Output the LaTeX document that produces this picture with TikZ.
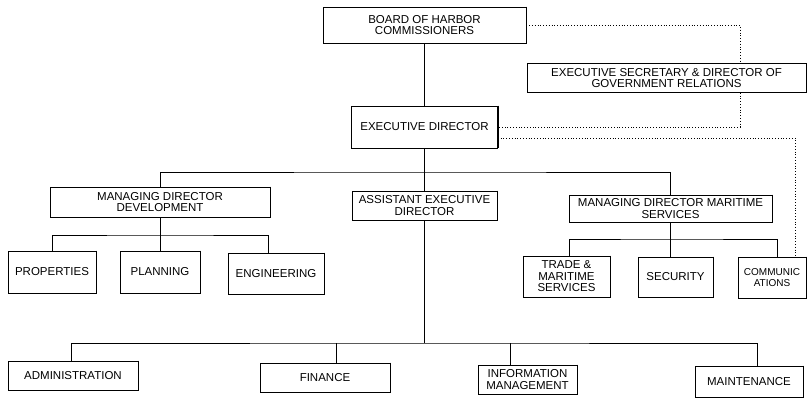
\documentclass[tikz,border=0pt]{standalone}
\usepackage{fontspec}
\setmainfont{Liberation Sans}
\tikzset{unit/.style={draw, line width=0.6pt, fill=white, align=center, inner sep=1pt, font=\fontsize{11.5}{11.5}\selectfont},
	link/.style={line width=0.8pt},
	staff/.style={dotted, line width=0.8pt}}
\begin{document}
\begin{tikzpicture}[x=1pt,y=-1pt]
\useasboundingbox (0,0) rectangle (808,399);
\node[unit, minimum width=203pt, minimum height=36pt] (board) at (424.5,25) {BOARD OF HARBOR\\COMMISSIONERS};
\node[unit, minimum width=279pt, minimum height=29pt] (secr) at (666.5,78) {EXECUTIVE SECRETARY \& DIRECTOR OF\\GOVERNMENT RELATIONS};
\node[unit, minimum width=146pt, minimum height=42pt] (exdir) at (424.5,127) {EXECUTIVE DIRECTOR};
\node[unit, minimum width=220pt, minimum height=30pt] (mddev) at (160,202) {MANAGING DIRECTOR\\DEVELOPMENT};
\node[unit, minimum width=145pt, minimum height=29pt] (aed) at (424.5,205.5) {ASSISTANT EXECUTIVE\\DIRECTOR};
\node[unit, minimum width=203pt, minimum height=27pt] (mdmar) at (670.5,208.5) {MANAGING DIRECTOR MARITIME\\SERVICES};
\node[unit, minimum width=88pt, minimum height=42pt] (prop) at (52,272) {PROPERTIES};
\node[unit, minimum width=80pt, minimum height=42pt] (plan) at (160,272) {PLANNING};
\node[unit, minimum width=96pt, minimum height=41pt] (eng) at (276,273.5) {ENGINEERING};
\node[unit, minimum width=87pt, minimum height=41pt] (trade) at (566.5,276.5) {TRADE \&\\MARITIME\\SERVICES};
\node[unit, minimum width=75pt, minimum height=40pt] (secu) at (675.5,277) {SECURITY};
\node[unit, minimum width=68pt, minimum height=41pt, font=\fontsize{10}{11}\selectfont] (comm) at (772,277.5) {COMMUNIC\\ATIONS};
\node[unit, minimum width=130pt, minimum height=29pt] (admin) at (73,375.5) {ADMINISTRATION};
\node[unit, minimum width=130pt, minimum height=29pt] (fin) at (325,377.5) {FINANCE};
\node[unit, minimum width=99pt, minimum height=29pt] (info) at (527.5,379.5) {INFORMATION\\MANAGEMENT};
\node[unit, minimum width=108pt, minimum height=31pt] (maint) at (749,381.5) {MAINTENANCE};
\foreach \n in {board,secr,exdir,mddev,aed,mdmar,prop,plan,eng,trade,secu,comm,admin,fin,info,maint}
	\draw[line width=1.6pt] (\n.north east) -- (\n.south east);
\coordinate (topbus) at (424.5,172);
\coordinate (devbus) at (160,235);
\coordinate (marbus) at (670.5,239);
\coordinate (lowbus) at (424.5,343);
\coordinate (sj) at (740,127);
\coordinate (cj) at (795,138);
\draw[link] (board) -- (exdir);
\draw[link] (exdir) -- (aed);
\draw[link] (mddev.north) |- (topbus) -| (mdmar.north);
\draw[link] (mddev.south) -- (devbus);
\draw[link] (prop.north) |- (devbus) -| ([xshift=-8pt]eng.north);
\draw[link] (devbus) -- (plan.north);
\draw[link] (mdmar.south) -- (marbus);
\draw[link] ([xshift=3pt]trade.north) |- (marbus) -| ([xshift=5pt]comm.north);
\draw[link] (marbus) -- (marbus |- secu.north);
\draw[link] (aed.south) -- (lowbus);
\draw[link] ([xshift=-2pt]admin.north) |- (lowbus) -| ([xshift=8pt]maint.north);
\draw[link] ([xshift=11pt]fin.north) -- ([xshift=11pt]fin.north |- lowbus);
\draw[link] ([xshift=-17pt]info.north) -- ([xshift=-17pt]info.north |- lowbus);
\draw[staff] (board.east) -| (secr.north -| sj);
\draw[staff] (secr.south -| sj) |- (exdir.east);
\draw[staff] ([yshift=-11pt]exdir.east) -- (cj) -- (cj |- comm.north);
\end{tikzpicture}
\end{document}
